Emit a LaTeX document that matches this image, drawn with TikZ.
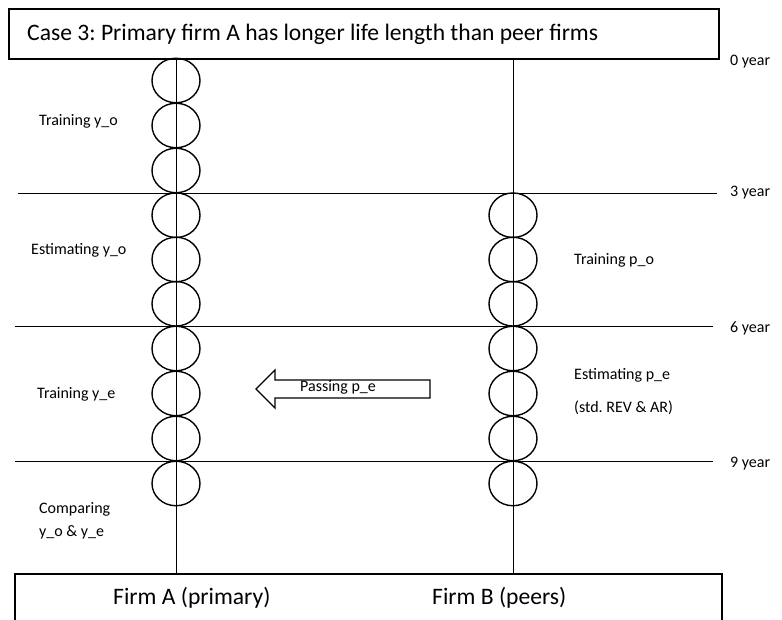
\documentclass[tikz,border=0pt]{standalone}
\usepackage{fontspec}
\setmainfont{Carlito}
\usetikzlibrary{shapes.geometric}
\frenchspacing
\tikzset{
  frame/.style={draw, line width=1.6pt, inner sep=0pt},
  ring/.style={draw, ellipse, line width=1.4pt, minimum width=48pt, minimum height=44.5pt, inner sep=0pt},
  axis/.style={line width=0.8pt},
  grid/.style={line width=0.9pt},
  lbl/.style={inner sep=0pt, anchor=base west, font=\fontsize{16}{23}\selectfont},
  big/.style={inner sep=0pt, anchor=base west, font=\fontsize{23.6}{28}\selectfont},
}
\begin{document}
\begin{tikzpicture}[x=1pt,y=-1pt]
\useasboundingbox (0,0) rectangle (782,620);
\clip (0,0) rectangle (782,620);
% boxes
\node[frame, anchor=north west, minimum width=710pt, minimum height=50pt] (title) at (8,8) {};
\node[big] (ttxt) at (27,41) {\frenchspacing Case 3: Primary firm A has longer life length than peer firms};
\node[frame, anchor=north west, minimum width=707pt, minimum height=60pt] (bottom) at (14,573) {};
\node[big] (fa) at (113,604) {Firm A (primary)};
\node[big] (fb) at (432,604) {Firm B (peers)};
% columns
\coordinate (A) at (176.5,0);
\coordinate (B) at (513,0);
\draw[axis] (title.south -| A) -- (bottom.north -| A);
\draw[axis] (title.south -| B) -- (bottom.north -| B);
% year lines
\coordinate (h3L) at (18,193);  \coordinate (h3R) at (717,193);
\coordinate (h6L) at (15,326);  \coordinate (h6R) at (713,326);
\coordinate (h9L) at (15,461);  \coordinate (h9R) at (713,461);
\draw[grid] (h3L) -- (h3R);
\draw[grid] (h6L) -- (h6R);
\draw[grid] (h9L) -- (h9R);
\node[lbl] (y0) at (730,66) {0 year};
\node[lbl] (y3) at (730,197) {3 year};
\node[lbl] (y6) at (730,333) {6 year};
\node[lbl] (y9) at (730,467) {9 year};
% firm A circles
\foreach \i/\y in {1/80.5,2/125.5,3/170.5,4/215.2,5/259.5,6/303.8,7/348.5,8/393.5,9/438.5,10/483.5}
  \node[ring] (a\i) at (176,\y) {};
% firm B circles
\foreach \i/\y in {4/215.2,5/259.5,6/303.8,7/348.5,8/393.5,9/438.5,10/483.5}
  \node[ring] (b\i) at (513,\y) {};
% left labels
\node[lbl] (tyo) at (39,126) {Training y\_o};
\node[lbl] (eyo) at (31,255) {Estimating y\_o};
\node[lbl] (tye) at (37,398) {Training y\_e};
\node[lbl, align=left] (cmp) at (39,536) {Comparing\\y\_o \& y\_e};
% right labels
\node[lbl] (tpo) at (574,265) {Training p\_o};
\node[lbl] (epe) at (574,380) {Estimating p\_e};
\node[lbl] (std) at (574,412) {\frenchspacing (std. REV \& AR)};
% arrow
\draw[line width=1.4pt, line join=miter] (430,380) -- (275,380) -- (275,370) -- (256,389) -- (275,408) -- (275,398) -- (430,398) -- cycle;
\node[lbl] (pass) at (300,391) {Passing p\_e};
\end{tikzpicture}
\end{document}
